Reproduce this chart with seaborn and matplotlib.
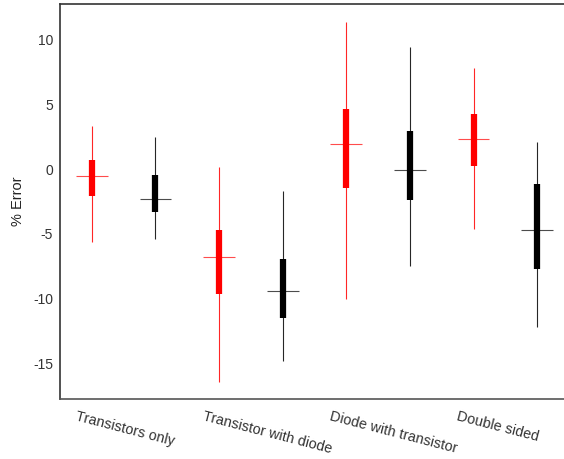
import matplotlib
matplotlib.use("Agg")
import matplotlib.pyplot as plt
import matplotlib.transforms as mtransforms
import seaborn as sns
import pandas as pd

# Configurations, each measured with two setups (red, black)
categories = ["Transistors only", "Transistor with diode",
              "Diode with transistor", "Double sided"]
series = ["red", "black"]

# Per-box statistics, ordered category by category, red then black
whisker_low = [-5.6, -5.4, -16.4, -14.8, -10.0, -7.5, -4.6, -12.15]
q1 = [-2.1, -3.3, -9.6, -11.5, -1.45, -2.35, 0.2, -7.7]
median = [-0.55, -2.3, -6.8, -9.35, 1.95, -0.08, 2.28, -4.7]
q3 = [0.7, -0.45, -4.7, -6.9, 4.6, 2.9, 4.2, -1.15]
whisker_high = [3.3, 2.5, 0.15, -1.7, 11.35, 9.4, 7.8, 2.1]

y_ticks = [-15, -10, -5, 0, 5, 10]

stats = pd.DataFrame({
    "category": [c for c in categories for _ in series],
    "series": series * len(categories),
    "low": whisker_low, "q1": q1, "median": median,
    "q3": q3, "high": whisker_high,
})
stats["pos"] = range(1, len(stats) + 1)

sns.set_theme(style="white")
plt.rcParams["font.family"] = ["Liberation Sans", "DejaVu Sans"]

fig = plt.figure(figsize=(5.64, 4.59), dpi=100)
ax = fig.add_axes([60 / 564, 1 - 399 / 459, 509 / 564, 395 / 459])

palette = {"red": "#ff0000", "black": "#000000"}
for _, row in stats.iterrows():
    col = palette[row["series"]]
    ax.vlines(row["pos"], row["low"], row["high"], color=col, lw=0.8,
              alpha=0.85, zorder=2)
    ax.vlines(row["pos"], row["q1"], row["q3"], color=col, lw=4.5, zorder=3)
    ax.hlines(row["median"], row["pos"] - 0.25, row["pos"] + 0.25,
              color=col, lw=0.8, alpha=0.7, zorder=4)

ax.set_xlim(0.5, 8.5)
ax.set_ylim(-17.7, 12.7)
ax.set_yticks(y_ticks)
ax.set_yticklabels([str(v) for v in y_ticks])
ax.set_xticks([1.5, 3.5, 5.5, 7.5])
ax.set_xticklabels(categories, rotation=-14.5, ha="left", va="top",
                   rotation_mode="anchor")
ax.tick_params(axis="both", length=0, labelsize=10, colors="#333333")
ax.tick_params(axis="x", pad=7.5, labelsize=10.4)
ax.tick_params(axis="y", pad=5)

# Category labels start a little left of the pair they describe
shift = mtransforms.ScaledTranslation(-0.465, 0, fig.dpi_scale_trans)
for lab in ax.get_xticklabels():
    lab.set_transform(lab.get_transform() + shift)

ax.set_ylabel("% Error", fontsize=10.5, color="#222222", labelpad=6)

for side in ["left", "top", "bottom"]:
    ax.spines[side].set_visible(True)
    ax.spines[side].set_color("#333333")
    ax.spines[side].set_linewidth(1.2)
ax.spines["bottom"].set_color("#555555")
ax.spines["right"].set_visible(False)

fig.savefig("out.png", dpi=100)
